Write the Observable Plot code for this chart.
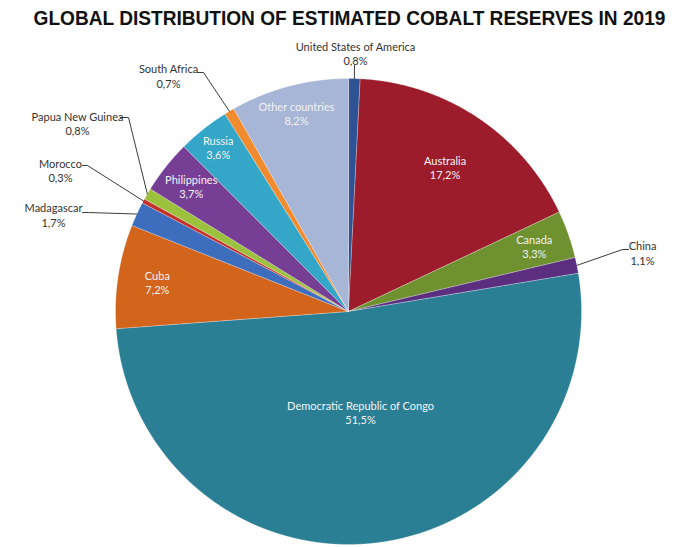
<!DOCTYPE html>
<html><head><meta charset="utf-8">
<script src="https://cdn.jsdelivr.net/npm/d3@7"></script>
<script src="https://cdn.jsdelivr.net/npm/@observablehq/plot@0.6"></script>
<style>body{margin:0;background:#fff}</style>
</head><body><div id="chart"></div>
<script>
// ---- data ----
const countries = ["United States of America","Australia","Canada","China","Democratic Republic of Congo","Cuba","Madagascar","Morocco","Papua New Guinea","Philippines","Russia","South Africa","Other countries"];
const shares = [0.8,17.2,3.3,1.1,51.5,7.2,1.7,0.3,0.8,3.7,3.6,0.7,8.2];
const colors = ["#2d5394","#9c1c2b","#6f912f","#5c2e80","#2a7f95","#d2641c","#3d6dbd","#c4302a","#9cc23d","#773e96","#34a6c8","#f18b2d","#a7b5d6"];
const title = "GLOBAL DISTRIBUTION OF ESTIMATED COBALT RESERVES IN 2019";

// ---- layout (pixels) ----
const W = 674, H = 547, CX = 348, CY = 311, R = 233;
const insideR = {"Australia":0.745,"Canada":0.845,"Democratic Republic of Congo":0.436,"Cuba":0.83,"Philippines":0.861,"Russia":0.899,"Other countries":0.877};
const outside = {
  "United States of America": {t:[355,53], p:[[354,65]]},
  "South Africa": {t:[168,75.5], p:[[203,72],[197,72]]},
  "Papua New Guinea": {t:[77,123], p:[[128,117],[120,117]]},
  "Morocco": {t:[60,170], p:[[87,165],[82,165]]},
  "Madagascar": {t:[53,214.5], p:[[88,212],[82,212]]},
  "China": {t:[642,252.5], p:[[622,249],[628,249]]}
};
const px = v => (v - CX) / R, py = v => (CY - v) / R;

const table = countries.map((name, i) => ({name, share: shares[i], color: colors[i]}));
const arcs = d3.pie().sort(null).value(d => d.share)(table);
const fmt = v => d3.format(".1f")(v).replace(".", ",") + "%";

const slicePts = [];
for (const a of arcs) {
  const n = Math.max(2, Math.ceil((a.endAngle - a.startAngle) / 0.004));
  slicePts.push({name: a.data.name, x: 0, y: 0});
  for (let k = 0; k <= n; k++) {
    const t = a.startAngle + (a.endAngle - a.startAngle) * k / n;
    slicePts.push({name: a.data.name, x: Math.sin(t), y: Math.cos(t)});
  }
  slicePts.push({name: a.data.name, x: 0, y: 0});
}
const inLabels = [], outLabels = [], leaders = [];
for (const a of arcs) {
  const mid = (a.startAngle + a.endAngle) / 2, nm = a.data.name;
  const txt = nm + "\n" + fmt(a.data.share);
  if (insideR[nm]) {
    const r = insideR[nm];
    inLabels.push({x: r * Math.sin(mid), y: r * Math.cos(mid), text: txt});
  } else {
    const o = outside[nm];
    outLabels.push({x: px(o.t[0]), y: py(o.t[1]), text: txt});
    leaders.push({name: nm, x: Math.sin(mid), y: Math.cos(mid)});
    for (const q of o.p) leaders.push({name: nm, x: px(q[0]), y: py(q[1])});
  }
}

const chart = Plot.plot({
  width: W, height: H, margin: 0,
  style: {fontFamily: "Lato", background: "white"},
  x: {domain: [px(0), px(W)], axis: null},
  y: {domain: [py(H), py(0)], axis: null},
  color: {domain: countries, range: colors},
  marks: [
    Plot.line(slicePts, {x: "x", y: "y", z: "name", fill: "name", stroke: "#ffffff", strokeWidth: 0.6, strokeOpacity: 0.45, curve: "linear"}),
    Plot.line(leaders, {x: "x", y: "y", z: "name", stroke: "#3c3c3c", strokeWidth: 1}),
    Plot.text(inLabels, {x: "x", y: "y", text: "text", fill: "#f3f3f3", fontSize: 11, lineHeight: 1.28}),
    Plot.text(outLabels, {x: "x", y: "y", text: "text", fill: "#333333", fontSize: 11, lineHeight: 1.28}),
    Plot.text([title], {x: px(349), y: py(18), text: d => d, fontFamily: "Liberation Sans", fontWeight: "bold", fontSize: 20, fill: "#111", className: "ttl"})
  ]
});
document.getElementById("chart").appendChild(chart);
// horizontally condense the title to the reference's width
const ttl = d3.select(chart).select(".ttl text");
const natural = ttl.node().getComputedTextLength();
const t0 = ttl.attr("transform") || "";
ttl.attr("transform", t0 + ` scale(${632 / natural},1)`);
</script></body></html>
